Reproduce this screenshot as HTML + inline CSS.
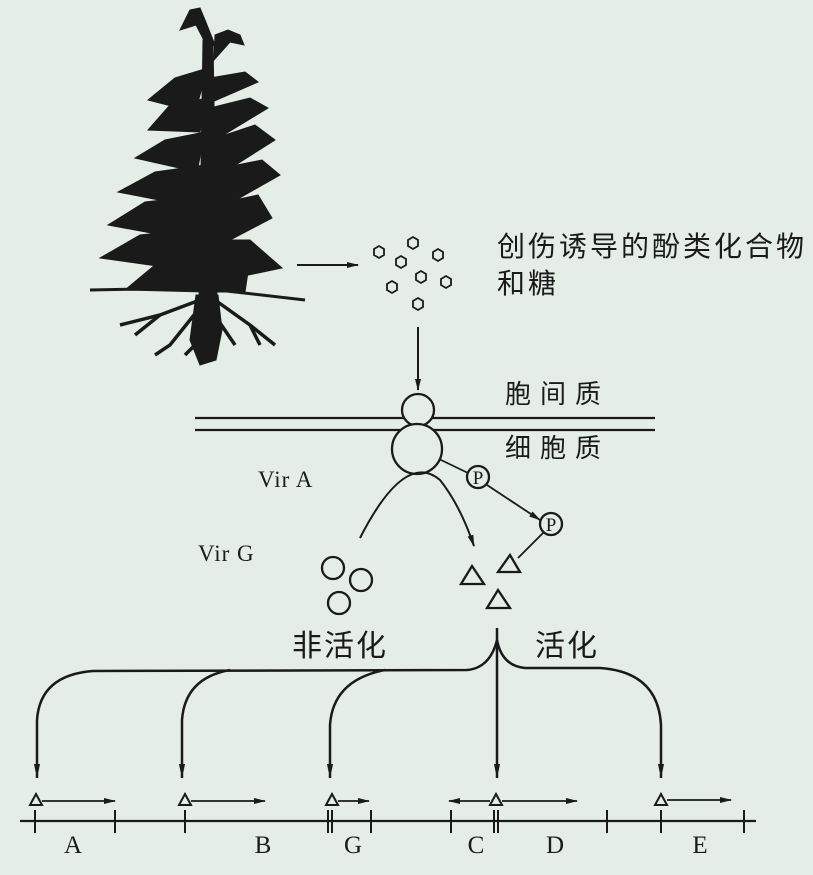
<!DOCTYPE html>
<html><head><meta charset="utf-8"><style>
html,body{margin:0;padding:0;background:#e4eee6;}
svg{display:block}
text{fill:#1a1a1a}
</style></head><body>
<svg width="813" height="875" viewBox="0 0 813 875" xmlns="http://www.w3.org/2000/svg">
<defs>
<marker id="ah" markerWidth="12" markerHeight="8" refX="11" refY="4" orient="auto" markerUnits="userSpaceOnUse">
<path d="M0,1 L12,4 L0,7 Z" fill="#1a1a1a"/></marker>
<marker id="ahv" markerWidth="8" markerHeight="16" refX="14" refY="4" orient="auto" markerUnits="userSpaceOnUse">
<path d="M0,1 L15,4 L0,7 Z" fill="#1a1a1a"/></marker>
</defs>
<rect width="813" height="875" fill="#e4eee6"/>
<g fill="#1a1a1a" stroke="#1a1a1a">
<path d="M203,40 L213,40 L217,300 L199,300 Z"/>
<path d="M190,10 L200,8 L205,20 L215,45 L208,48 L196,25 L180,30 Z"/>
<path d="M215,35 L228,30 L240,35 L244,45 L230,42 L214,60 Z"/>
<path d="M208,68 L175,78 L148,100 L195,112 Z"/>
<path d="M210,78 L245,72 L258,82 L212,102 Z"/>
<path d="M208,98 L170,105 L148,130 L200,132 Z"/>
<path d="M210,108 L250,98 L268,108 L212,142 Z"/>
<path d="M205,132 L165,140 L135,158 L197,172 Z"/>
<path d="M210,140 L255,125 L275,140 L215,178 Z"/>
<path d="M205,165 L155,172 L118,192 L200,208 Z"/>
<path d="M212,170 L262,160 L280,175 L215,212 Z"/>
<path d="M205,195 L145,202 L108,225 L200,242 Z"/>
<path d="M212,205 L258,195 L272,218 L215,248 Z"/>
<path d="M205,228 L140,235 L100,258 L200,272 Z"/>
<path d="M212,240 L250,240 L282,268 L215,282 Z"/>
<path d="M200,255 L155,265 L125,290 L205,292 Z"/>
<path d="M212,260 L248,272 L245,292 L212,292 Z"/>
<path d="M90,290 L200,288 L305,300" fill="none" stroke-width="3"/>
<path d="M196,295 L190,340 L200,365 L216,360 L222,330 L218,295 Z"/>
<g fill="none" stroke-width="3.5">
<path d="M200,300 L160,315 L120,325"/>
<path d="M160,315 L135,335"/>
<path d="M198,310 L170,345 L155,355"/>
<path d="M215,300 L250,325 L275,345"/>
<path d="M250,325 L260,345"/>
<path d="M218,320 L235,345"/>
<path d="M205,335 L185,355"/>
</g>
</g>
<line x1="297" y1="265" x2="358" y2="265" stroke="#1a1a1a" stroke-width="2" marker-end="url(#ah)"/>
<g fill="none" stroke="#1a1a1a" stroke-width="1.8">
<polygon points="379,246 384,249 384,255 379,258 374,255 374,249"/>
<polygon points="413,237 418,240 418,246 413,249 408,246 408,240"/>
<polygon points="401,256 406,259 406,265 401,268 396,265 396,259"/>
<polygon points="438,249 443,252 443,258 438,261 433,258 433,252"/>
<polygon points="421,271 426,274 426,280 421,283 416,280 416,274"/>
<polygon points="392,281 397,284 397,290 392,293 387,290 387,284"/>
<polygon points="446,276 451,279 451,285 446,288 441,285 441,279"/>
<polygon points="418,298 423,301 423,307 418,310 413,307 413,301"/>
</g>
<text x="497" y="256" font-family="Liberation Sans, Noto Sans CJK SC, sans-serif" font-size="28" letter-spacing="3">创伤诱导的酚类化合物</text>
<text x="497" y="293" font-family="Liberation Sans, Noto Sans CJK SC, sans-serif" font-size="28" letter-spacing="3">和糖</text>
<line x1="418" y1="327" x2="418" y2="390" stroke="#1a1a1a" stroke-width="2" marker-end="url(#ah)"/>
<line x1="195" y1="418" x2="655" y2="418" stroke="#1a1a1a" stroke-width="2.3"/>
<line x1="195" y1="430" x2="655" y2="430" stroke="#1a1a1a" stroke-width="2.3"/>
<circle cx="418" cy="410" r="16" fill="#e4eee6" stroke="#1a1a1a" stroke-width="2.3"/>
<circle cx="417" cy="449" r="25" fill="#e4eee6" stroke="#1a1a1a" stroke-width="2.3"/>
<text x="505" y="403" font-family="Liberation Sans, Noto Sans CJK SC, sans-serif" font-size="26" letter-spacing="9">胞间质</text>
<text x="505" y="457" font-family="Liberation Sans, Noto Sans CJK SC, sans-serif" font-size="26" letter-spacing="9">细胞质</text>
<text x="258" y="487" font-family="Liberation Serif, serif" font-size="23" letter-spacing="1">Vir  A</text>
<text x="198" y="561" font-family="Liberation Serif, serif" font-size="23" letter-spacing="1">Vir G</text>
<line x1="439" y1="459" x2="468" y2="473" stroke="#1a1a1a" stroke-width="1.8"/>
<circle cx="478" cy="477" r="11" fill="none" stroke="#1a1a1a" stroke-width="2.3"/>
<text x="478" y="484" text-anchor="middle" font-family="Liberation Serif, serif" font-size="19">P</text>
<line x1="487" y1="485" x2="540" y2="520" stroke="#1a1a1a" stroke-width="1.8" marker-end="url(#ah)"/>
<circle cx="551" cy="524" r="11" fill="none" stroke="#1a1a1a" stroke-width="2.3"/>
<text x="551" y="531" text-anchor="middle" font-family="Liberation Serif, serif" font-size="19">P</text>
<line x1="543" y1="533" x2="518" y2="558" stroke="#1a1a1a" stroke-width="1.8"/>
<path d="M360,538 Q405,450 440,480 Q460,505 474,546" fill="none" stroke="#1a1a1a" stroke-width="2" marker-end="url(#ah)"/>
<g fill="none" stroke="#1a1a1a" stroke-width="2.3">
<circle cx="333" cy="568" r="11"/><circle cx="361" cy="580" r="11"/><circle cx="339" cy="603" r="11"/>
<polygon points="461,584 484,584 472,566"/>
<polygon points="498,572 520,572 510,555"/>
<polygon points="487,608 510,608 498,590"/>
</g>
<text x="292" y="656" font-family="Liberation Sans, Noto Sans CJK SC, sans-serif" font-size="30" letter-spacing="2">非活化</text>
<text x="535" y="656" font-family="Liberation Sans, Noto Sans CJK SC, sans-serif" font-size="30" letter-spacing="2">活化</text>
<g fill="none" stroke="#1a1a1a" stroke-width="2.5">
<path d="M497,628 L497,778" marker-end="url(#ahv)"/>
<path d="M497,640 Q490,668 467,670 L93,671 Q40,675 37,720 L37,778" marker-end="url(#ahv)"/>
<path d="M230,670 Q185,678 182,720 L182,778" marker-end="url(#ahv)"/>
<path d="M385,670 Q333,680 330,725 L330,778" marker-end="url(#ahv)"/>
<path d="M497,640 Q502,666 525,668 L600,668 Q658,672 661,725 L661,778" marker-end="url(#ahv)"/>
</g>
<line x1="20" y1="821" x2="756" y2="821" stroke="#1a1a1a" stroke-width="2.3"/>
<g stroke="#1a1a1a" stroke-width="2">
<line x1="35" y1="810" x2="35" y2="833"/><line x1="115" y1="810" x2="115" y2="833"/>
<line x1="185" y1="810" x2="185" y2="833"/><line x1="328" y1="810" x2="328" y2="833"/>
<line x1="332" y1="810" x2="332" y2="833"/><line x1="371" y1="810" x2="371" y2="833"/>
<line x1="451" y1="810" x2="451" y2="833"/><line x1="494" y1="810" x2="494" y2="833"/>
<line x1="498" y1="810" x2="498" y2="833"/><line x1="607" y1="810" x2="607" y2="833"/>
<line x1="661" y1="810" x2="661" y2="833"/><line x1="744" y1="810" x2="744" y2="833"/>
</g>
<g fill="none" stroke="#1a1a1a" stroke-width="2">
<polygon points="30,805 42,805 36,794"/>
<polygon points="179,805 191,805 185,794"/>
<polygon points="326,805 338,805 332,794"/>
<polygon points="490,805 502,805 496,794"/>
<polygon points="655,805 667,805 661,794"/>
</g>
<g stroke="#1a1a1a" stroke-width="1.8">
<line x1="42" y1="801" x2="115" y2="801" marker-end="url(#ah)"/>
<line x1="191" y1="801" x2="265" y2="801" marker-end="url(#ah)"/>
<line x1="338" y1="801" x2="369" y2="801" marker-end="url(#ah)"/>
<line x1="490" y1="801" x2="449" y2="801" marker-end="url(#ah)"/>
<line x1="502" y1="801" x2="577" y2="801" marker-end="url(#ah)"/>
<line x1="667" y1="800" x2="731" y2="800" marker-end="url(#ah)"/>
</g>
<g font-family="Liberation Serif, serif" font-size="25" text-anchor="middle">
<text x="73" y="853">A</text><text x="263" y="853">B</text><text x="353" y="853">G</text>
<text x="476" y="853">C</text><text x="555" y="853">D</text><text x="700" y="853">E</text>
</g>
</svg>
</body></html>
